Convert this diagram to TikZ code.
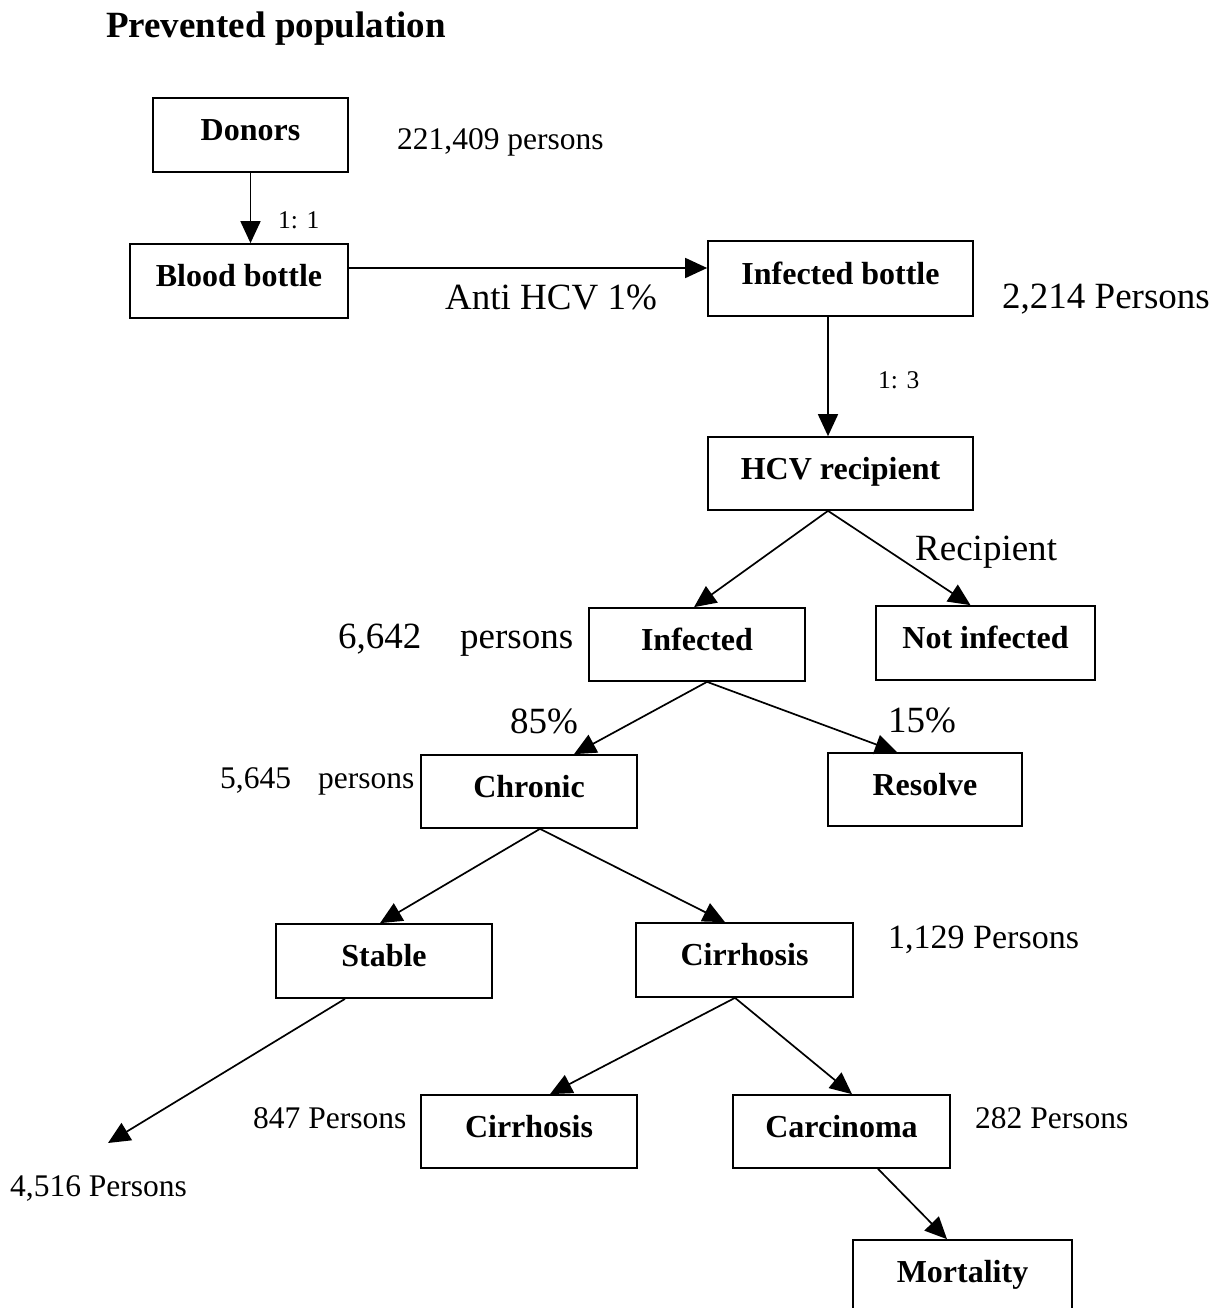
\documentclass[tikz,border=0pt]{standalone}
\usepackage{fontspec}
\setmainfont{Liberation Serif}
\usetikzlibrary{arrows.meta,calc}
\begin{document}
\begin{tikzpicture}[x=1pt,y=-1pt,
  box/.style={draw,line width=1.7pt,rectangle,inner sep=0pt,minimum width=217pt,minimum height=74pt,
    text height=22pt,text depth=11pt,
    font=\fontsize{32}{36}\selectfont\bfseries},
  arr/.style={line width=1.7pt,-{Triangle[length=22pt,width=20pt]}},
  lab/.style={inner sep=0pt,anchor=base west},
  big/.style={font=\fontsize{37}{42}\selectfont},
  mid/.style={font=\fontsize{31.5}{36}\selectfont},
  small/.style={font=\fontsize{25.5}{30}\selectfont}]
\useasboundingbox (0,0) rectangle (1218,1308);
\clip (0,0) rectangle (1218,1308);
% title
\node[lab,font=\fontsize{37}{42}\selectfont\bfseries] (title) at (106,38) {Prevented population};
% boxes
\node[box,minimum width=195pt] (donors) at (250.5,135) {Donors};
\node[box,minimum width=218pt] (blood) at (239,281) {Blood bottle};
\node[box,minimum width=265pt,minimum height=75pt] (infb) at (840.5,278.5) {Infected bottle};
\node[box,minimum width=265pt,minimum height=73pt] (hcv) at (840.5,473.5) {HCV recipient};
\node[box,minimum width=216pt,minimum height=73pt] (inf) at (697,644.5) {Infected};
\node[box,minimum width=219pt] (notinf) at (985.5,643) {Not infected};
\node[box,minimum width=216pt,minimum height=73pt] (chronic) at (529,791.5) {Chronic};
\node[box,minimum width=194pt,minimum height=73pt] (resolve) at (925,789.5) {Resolve};
\node[box,minimum width=216pt] (stable) at (384,961) {Stable};
\node[box,minimum width=217pt] (cirr) at (744.5,960) {Cirrhosis};
\node[box,minimum width=216pt,minimum height=73pt] (cirrb) at (529,1131.5) {Cirrhosis};
\node[box,minimum width=217pt,minimum height=73pt] (carc) at (841.5,1131.5) {Carcinoma};
\node[box,minimum width=219pt] (mort) at (962.5,1277) {Mortality};
\coordinate (freeend) at (108,1143);
% labels
\node[lab,mid] (l1) at (397,150) {221,409 persons};
\node[lab,small] (l2) at (278,228) {1: 1};
\node[lab,big] (l3) at (445,309) {Anti HCV 1\%};
\node[lab,big] (l4) at (1002,308) {2,214 Persons};
\node[lab,small] (l5) at (878,388) {1: 3};
\node[lab,big] (l6) at (915,560) {Recipient};
\node[lab,big] (l7) at (338,648) {6,642};
\node[lab,big] (l8) at (460,648) {persons};
\node[lab,big] (l9) at (510,733) {85\%};
\node[lab,big] (l10) at (888,732) {15\%};
\node[lab,mid] (l11) at (220,788) {5,645};
\node[lab,mid] (l12) at (318,788) {persons};
\node[lab,font=\fontsize{34}{40}\selectfont] (l13) at (888,948) {1,129 Persons};
\node[lab,mid] (l14) at (253,1128) {847 Persons};
\node[lab,mid] (l15) at (975,1128) {282 Persons};
\node[lab,mid] (l16) at (10,1196) {4,516 Persons};
% connectors
\draw[arr] (donors.south) -- (donors.south |- blood.north);
\draw[arr] ([yshift=13pt]blood.east) -- ([yshift=13pt]blood.east -| infb.west);
\draw[arr] ([xshift=-12.5pt]infb.south) -- ([xshift=-12.5pt]hcv.north);
\draw[arr] ([xshift=-12.5pt]hcv.south) -- ([xshift=-3pt]inf.north);
\draw[arr] ([xshift=-12.5pt]hcv.south) -- ([xshift=-15pt]notinf.north);
\draw[arr] ([xshift=10pt]inf.south) -- ([xshift=45pt]chronic.north);
\draw[arr] ([xshift=10pt]inf.south) -- ([xshift=-28pt]resolve.north);
\draw[arr] ([xshift=11pt]chronic.south) -- ([xshift=-4pt]stable.north);
\draw[arr] ([xshift=11pt]chronic.south) -- ([xshift=-19.5pt]cirr.north);
\draw[arr] ([xshift=-39pt]stable.south) -- (freeend);
\draw[arr] ([xshift=-9.5pt]cirr.south) -- ([xshift=21pt]cirrb.north);
\draw[arr] ([xshift=-9.5pt]cirr.south) -- ([xshift=10.5pt]carc.north);
\draw[arr] ([xshift=36.5pt]carc.south) -- ([xshift=-15.5pt]mort.north);
\end{tikzpicture}
\end{document}
